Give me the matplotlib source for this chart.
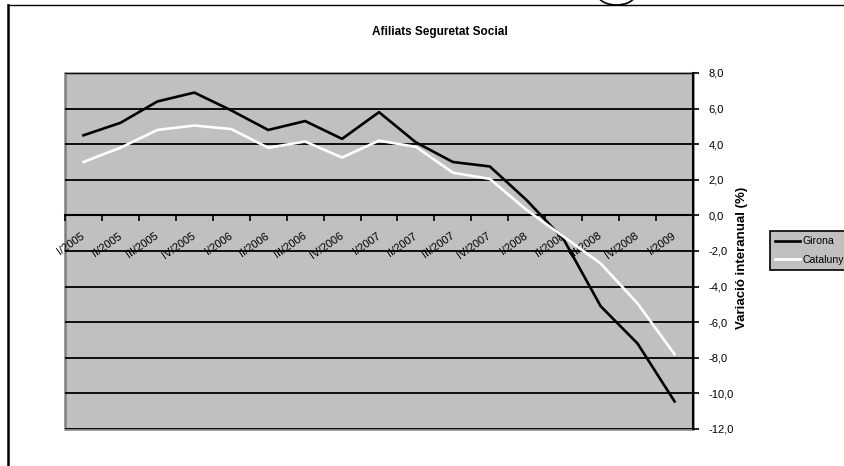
import matplotlib
matplotlib.use("Agg")
import matplotlib.pyplot as plt
from matplotlib.patches import Rectangle, Arc
from matplotlib.lines import Line2D
import numpy as np

plt.rcParams['font.family'] = ['Liberation Sans', 'DejaVu Sans']

# data
quarters = ['I/2005', 'II/2005', 'III/2005', 'IV/2005',
            'I/2006', 'II/2006', 'III/2006', 'IV/2006',
            'I/2007', 'II/2007', 'III/2007', 'IV/2007',
            'I/2008', 'II/2008', 'III/2008', 'IV/2008', 'I/2009']
girona = [4.5, 5.2, 6.4, 6.9, 5.9, 4.8, 5.3, 4.3, 5.8, 4.1, 3.0, 2.75,
          0.85, -1.35, -5.1, -7.2, -10.45]
catalunya = [3.0, 3.8, 4.8, 5.05, 4.85, 3.8, 4.15, 3.25, 4.2, 3.85, 2.4, 2.05,
             0.3, -1.2, -2.7, -4.95, -7.8]
y_ticks = [-12, -10, -8, -6, -4, -2, 0, 2, 4, 6, 8]

W, H = 845, 466
fig = plt.figure(figsize=(W / 100, H / 100), dpi=100)
ax = fig.add_axes([65 / W, 1 - 429 / H, (693 - 65) / W, (429 - 73) / H])
ax.set_facecolor('#C0C0C0')

x = np.arange(len(quarters))
ax.plot(x, girona, color='black', lw=1.9, label='Girona', zorder=3)
ax.plot(x, catalunya, color='white', lw=1.9, label='Catalunya', zorder=3)

ax.set_xlim(-0.5, len(quarters) - 0.5)
ax.set_ylim(-12, 8)

# horizontal gridlines
ax.set_yticks(y_ticks)
ax.set_yticklabels([f'{v:.1f}'.replace('.', ',') for v in y_ticks], fontsize=8)
ax.yaxis.tick_right()
ax.tick_params(axis='y', direction='out', length=4, width=1.2, pad=7, colors='black')
ax.yaxis.grid(True, color='black', lw=1.3, zorder=1)
ax.set_axisbelow(True)

# category axis crosses at 0
ax.spines['bottom'].set_position(('data', 0))
ax.spines['bottom'].set_color('black')
ax.spines['bottom'].set_linewidth(1.5)
ax.spines['right'].set_color('black')
ax.spines['right'].set_linewidth(1.5)
ax.spines['left'].set_visible(False)
ax.spines['top'].set_visible(False)
ax.add_patch(Rectangle((0, 0), 1, 1, transform=ax.transAxes, fill=False,
                       edgecolor='#808080', lw=1.8, clip_on=False, zorder=0.5))

ax.set_xticks(np.arange(-0.5, len(quarters), 1))
ax.set_xticks(x, minor=True)
ax.set_xticklabels([], minor=False)
ax.set_xticklabels(quarters, minor=True, rotation=35, ha='right', va='top', fontsize=8)
ax.tick_params(axis='x', which='major', direction='out', length=4, width=1.2)
ax.tick_params(axis='x', which='minor', length=0, pad=11)
offset = matplotlib.transforms.ScaledTranslation(3 / 100, 0, fig.dpi_scale_trans)
for lbl in ax.get_xticklabels(minor=True):
    lbl.set_transform(lbl.get_transform() + offset)

ax.set_ylabel('Variació interanual (%)', fontsize=9.5, fontweight='bold',
              rotation=90, ha='center', va='center')
ax.yaxis.set_label_position('right')
ax.yaxis.set_label_coords((736 - 65) / (693 - 65), (429 - 258) / (429 - 73))

fig.text(440 / W, 1 - 32 / H, 'Afiliats Seguretat Social', fontsize=8.5,
         fontweight='bold', ha='center', va='center')

leg = fig.legend(loc='upper left', bbox_to_anchor=(770 / W, 1 - 231 / H),
                 fontsize=7.6, frameon=True, fancybox=False, framealpha=1,
                 facecolor='#C0C0C0', edgecolor='black', borderaxespad=0,
                 borderpad=0.5, labelspacing=0.8, handlelength=2.3,
                 handletextpad=0.25)
leg.get_frame().set_linewidth(1.2)

# outer border of the chart object
fig.add_artist(Line2D([8 / W, 1], [1 - 5 / H, 1 - 5 / H], color='black', lw=1.0,
                      transform=fig.transFigure))
fig.add_artist(Line2D([8 / W, 8 / W], [0, 1 - 5 / H], color='black', lw=1.8,
                      transform=fig.transFigure))
fig.add_artist(Arc((616.5 / W, 1 + 6 / H), 38 / W, 22 / H, theta1=200, theta2=340,
                   color='black', lw=1.2, transform=fig.transFigure))

fig.savefig('out.png', dpi=100)
